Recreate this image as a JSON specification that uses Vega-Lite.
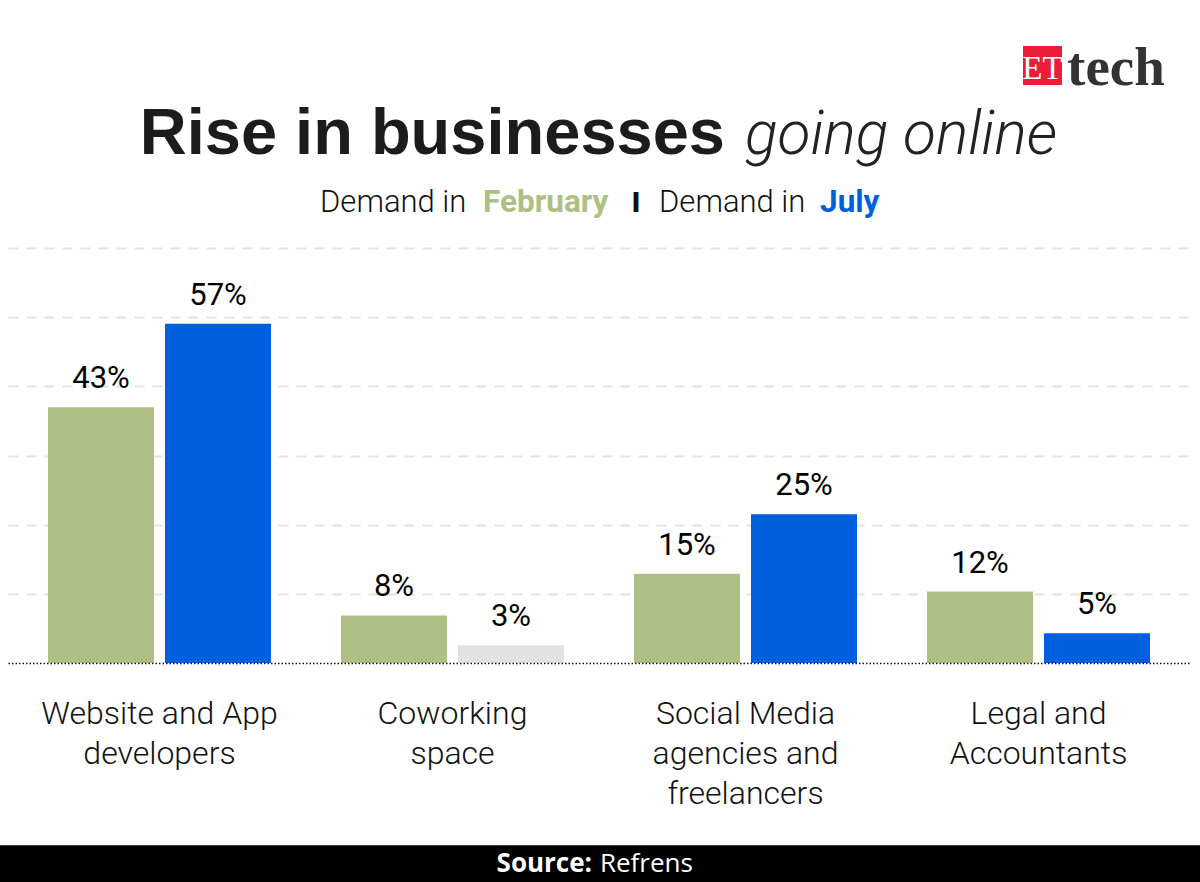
{
  "$schema": "https://vega.github.io/schema/vega-lite/v6.json",
  "width": 1182,
  "height": 415,
  "autosize": {"type": "none"},
  "padding": {"left": 8, "top": 248, "right": 10, "bottom": 219},
  "background": "white",
  "config": {"view": {"stroke": null}},
  "layer": [
    {
      "data": {
        "values": [
          {"category": "Website and App developers", "month": "February", "value": 43},
          {"category": "Website and App developers", "month": "July", "value": 57},
          {"category": "Coworking space", "month": "February", "value": 8},
          {"category": "Coworking space", "month": "July", "value": 3},
          {"category": "Social Media agencies and freelancers", "month": "February", "value": 15},
          {"category": "Social Media agencies and freelancers", "month": "July", "value": 25},
          {"category": "Legal and Accountants", "month": "February", "value": 12},
          {"category": "Legal and Accountants", "month": "July", "value": 5}
        ]
      },
      "encoding": {
        "x": {
          "field": "category",
          "type": "nominal",
          "sort": null,
          "scale": {"paddingInner": 0.2389, "paddingOuter": 0.1365},
          "axis": {
            "title": null,
            "ticks": false,
            "domain": true,
            "domainColor": "#111111",
            "domainWidth": 1.5,
            "domainDash": [1.5, 2],
            "labelAngle": 0,
            "labelFont": "Roboto",
            "labelFontWeight": 300,
            "labelFontSize": 32,
            "labelColor": "#111111",
            "labelPadding": 60,
            "labelLineHeight": 40,
            "labelBaseline": "alphabetic",
            "labelLimit": 400,
            "zindex": 2,
            "labelExpr": "datum.label == 'Website and App developers' ? ['Website and App', 'developers'] : datum.label == 'Coworking space' ? ['Coworking', 'space'] : datum.label == 'Social Media agencies and freelancers' ? ['Social Media', 'agencies and', 'freelancers'] : ['Legal and', 'Accountants']"
          }
        },
        "xOffset": {
          "field": "month",
          "type": "nominal",
          "scale": {"paddingInner": 0.094, "paddingOuter": 0}
        },
        "y": {
          "field": "value",
          "type": "quantitative",
          "scale": {"domain": [0, 69.75], "nice": false},
          "axis": {
            "title": null,
            "labels": false,
            "ticks": false,
            "domain": false,
            "values": [11.625, 23.25, 34.875, 46.5, 58.125, 69.75],
            "grid": true,
            "gridColor": "#e3e3e3",
            "gridWidth": 2,
            "gridDash": [10, 8]
          }
        }
      },
      "layer": [
        {
          "mark": {"type": "bar"},
          "encoding": {
            "color": {
              "condition": {"test": "datum.category === 'Coworking space' && datum.month === 'July'", "value": "#e1e2e4"},
              "field": "month",
              "type": "nominal",
              "scale": {"domain": ["February", "July"], "range": ["#adbf83", "#005fdd"]},
              "legend": null
            }
          }
        },
        {
          "mark": {
            "type": "text",
            "text": {"expr": "datum.value + '%'"},
            "font": "Roboto",
            "fontWeight": 400,
            "fontSize": 31,
            "baseline": "alphabetic",
            "dy": -19,
            "color": "#000000"
          }
        }
      ]
    },
    {
      "data": {"values": [{}]},
      "encoding": {
        "x": {"type": "quantitative", "scale": {"domain": [0, 100]}, "axis": null},
        "y": {"type": "quantitative", "scale": {"domain": [0, 100]}, "axis": null}
      },
      "layer": [
        {
          "mark": {"type": "rect", "color": "#000000"},
          "encoding": {
            "x": {"datum": -0.7, "type": "quantitative", "scale": {"domain": [0, 100]}, "axis": null},
            "x2": {"datum": 100.9},
            "y": {"datum": -43.9, "type": "quantitative", "scale": {"domain": [0, 100]}, "axis": null},
            "y2": {"datum": -52.8}
          }
        },
        {
          "mark": {"type": "text", "text": "Source:", "font": "Open Sans", "fontWeight": "bold", "fontSize": 26, "color": "white", "align": "right", "baseline": "alphabetic"},
          "encoding": {
            "x": {"datum": 49.41, "type": "quantitative", "scale": {"domain": [0, 100]}, "axis": null},
            "y": {"datum": -50.4, "type": "quantitative", "scale": {"domain": [0, 100]}, "axis": null}
          }
        },
        {
          "mark": {"type": "text", "text": "Refrens", "font": "Open Sans", "fontWeight": "normal", "fontSize": 26, "color": "white", "align": "left", "baseline": "alphabetic"},
          "encoding": {
            "x": {"datum": 50.08, "type": "quantitative", "scale": {"domain": [0, 100]}, "axis": null},
            "y": {"datum": -50.4, "type": "quantitative", "scale": {"domain": [0, 100]}, "axis": null}
          }
        },
        {
          "mark": {"type": "text", "text": "Rise in businesses", "font": "Liberation Sans", "fontWeight": "bold", "fontSize": 65, "color": "#1c1c1c", "align": "right", "baseline": "alphabetic"},
          "encoding": {
            "x": {"datum": 60.66, "type": "quantitative", "scale": {"domain": [0, 100]}, "axis": null},
            "y": {"datum": 122.65, "type": "quantitative", "scale": {"domain": [0, 100]}, "axis": null}
          }
        },
        {
          "mark": {"type": "text", "text": "going online", "font": "Roboto", "fontWeight": 300, "fontStyle": "italic", "fontSize": 60.5, "color": "#222222", "align": "left", "baseline": "alphabetic"},
          "encoding": {
            "x": {"datum": 62.35, "type": "quantitative", "scale": {"domain": [0, 100]}, "axis": null},
            "y": {"datum": 122.65, "type": "quantitative", "scale": {"domain": [0, 100]}, "axis": null}
          }
        },
        {
          "mark": {"type": "text", "text": "Demand in", "font": "Roboto", "fontWeight": 300, "fontSize": 31, "color": "#111111", "align": "left", "baseline": "alphabetic"},
          "encoding": {
            "x": {"datum": 26.4, "type": "quantitative", "scale": {"domain": [0, 100]}, "axis": null},
            "y": {"datum": 108.67, "type": "quantitative", "scale": {"domain": [0, 100]}, "axis": null}
          }
        },
        {
          "mark": {"type": "text", "text": "February", "font": "Roboto", "fontWeight": "bold", "fontSize": 31.5, "color": "#adbf83", "align": "left", "baseline": "alphabetic"},
          "encoding": {
            "x": {"datum": 40.19, "type": "quantitative", "scale": {"domain": [0, 100]}, "axis": null},
            "y": {"datum": 108.67, "type": "quantitative", "scale": {"domain": [0, 100]}, "axis": null}
          }
        },
        {
          "mark": {"type": "text", "text": "I", "font": "Roboto", "fontWeight": 900, "fontSize": 28, "color": "#111111", "align": "center", "baseline": "alphabetic"},
          "encoding": {
            "x": {"datum": 53.13, "type": "quantitative", "scale": {"domain": [0, 100]}, "axis": null},
            "y": {"datum": 108.67, "type": "quantitative", "scale": {"domain": [0, 100]}, "axis": null}
          }
        },
        {
          "mark": {"type": "text", "text": "Demand in", "font": "Roboto", "fontWeight": 300, "fontSize": 31, "color": "#111111", "align": "left", "baseline": "alphabetic"},
          "encoding": {
            "x": {"datum": 55.08, "type": "quantitative", "scale": {"domain": [0, 100]}, "axis": null},
            "y": {"datum": 108.67, "type": "quantitative", "scale": {"domain": [0, 100]}, "axis": null}
          }
        },
        {
          "mark": {"type": "text", "text": "July", "font": "Roboto", "fontWeight": "bold", "fontSize": 31.5, "color": "#005fdd", "align": "left", "baseline": "alphabetic"},
          "encoding": {
            "x": {"datum": 68.7, "type": "quantitative", "scale": {"domain": [0, 100]}, "axis": null},
            "y": {"datum": 108.67, "type": "quantitative", "scale": {"domain": [0, 100]}, "axis": null}
          }
        },
        {
          "mark": {"type": "rect", "color": "#ed1c3a"},
          "encoding": {
            "x": {"datum": 85.87, "type": "quantitative", "scale": {"domain": [0, 100]}, "axis": null},
            "x2": {"datum": 89.17},
            "y": {"datum": 148.67, "type": "quantitative", "scale": {"domain": [0, 100]}, "axis": null},
            "y2": {"datum": 139.28}
          }
        },
        {
          "mark": {"type": "text", "text": "ET", "font": "Liberation Serif", "fontWeight": "normal", "fontSize": 33, "color": "white", "align": "center", "baseline": "alphabetic"},
          "encoding": {
            "x": {"datum": 87.52, "type": "quantitative", "scale": {"domain": [0, 100]}, "axis": null},
            "y": {"datum": 140.7, "type": "quantitative", "scale": {"domain": [0, 100]}, "axis": null}
          }
        },
        {
          "mark": {"type": "text", "text": "tech", "font": "Liberation Serif", "fontWeight": "bold", "fontSize": 55, "color": "#333333", "align": "left", "baseline": "alphabetic"},
          "encoding": {
            "x": {"datum": 89.6, "type": "quantitative", "scale": {"domain": [0, 100]}, "axis": null},
            "y": {"datum": 139.28, "type": "quantitative", "scale": {"domain": [0, 100]}, "axis": null}
          }
        }
      ]
    }
  ],
  "resolve": {"scale": {"x": "independent", "y": "independent"}}
}
